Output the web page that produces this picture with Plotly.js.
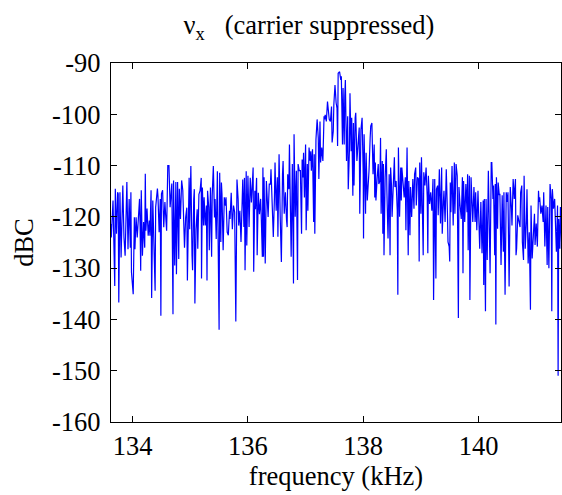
<!DOCTYPE html>
<html>
<head>
<meta charset="utf-8">
<script src="https://cdn.plot.ly/plotly-3.0.1.min.js"></script>
<style>html,body{margin:0;padding:0;background:#fff;}#chart{width:562px;height:495px;}</style>
</head>
<body>
<div id="chart"></div>
<script>
// Spectrum samples (frequency in kHz, level in dBC)
var freq1 = [133.62,133.63,133.66,133.69,133.70,133.72,133.74,133.75,133.76,133.78,133.80,133.83,133.85,133.87,133.90,133.92,133.94,133.96,133.97,133.98,134.01,134.03,134.04,134.06,134.08,134.10,134.12,134.13,134.14,134.15,134.17,134.19,134.21,134.22,134.23,134.25,134.27,134.29,134.30,134.32,134.33,134.35,134.37,134.39,134.40,134.43,134.44,134.46,134.48,134.49,134.50,134.52,134.54,134.56,134.58,134.59,134.61,134.63,134.65,134.66,134.68,134.70,134.71,134.73,134.75,134.76,134.78,134.80,134.81,134.83,134.85,134.87,134.88,134.90,134.92];
var dbc1 = [-121.4,-124,-116.8,-133.5,-114.5,-123.3,-115.2,-115.5,-136.7,-115.2,-127.9,-113.9,-124,-127.6,-113.2,-126.3,-116.5,-126,-115.2,-130.8,-135.1,-120.1,-126.3,-120.1,-124,-119.4,-116.5,-122,-130.5,-114.8,-127.6,-121,-126,-111.6,-122.7,-118.4,-123.7,-120.7,-123.7,-114.8,-135.8,-116.8,-126,-134.4,-118.1,-114.5,-116.1,-123,-116.5,-139.3,-115.5,-114.8,-122,-117.1,-121,-122.7,-110,-110,-118.1,-115.5,-113.5,-139,-112.9,-129.5,-113.2,-131.2,-113.2,-128.2,-114.5,-120.4,-112.9,-114.8,-118.1,-126,-120.1];

var freq2 = [134.94,134.95,134.96,134.98,134.99,135.01,135.03,135.04,135.06,135.07,135.08,135.10,135.12,135.13,135.15,135.17,135.19,135.195,135.21,135.23,135.24,135.26,135.28,135.29,135.30,135.32,135.33,135.35,135.37,135.38,135.40,135.42,135.43,135.45,135.47,135.48,135.50,135.51,135.53,135.54,135.55,135.57,135.59,135.61,135.62,135.64,135.66,135.68,135.69,135.71,135.73,135.75,135.77,135.79,135.81,135.83,135.84,135.86,135.88,135.90,135.91,135.93,135.94,135.95,135.97,135.98,136.00,136.02,136.04,136.06,136.08,136.09,136.10,136.12,136.13,136.15,136.16,136.18,136.20,136.22,136.23,136.25];
var dbc2 = [-118.2,-132.4,-123,-112.4,-122.4,-110.1,-127.5,-130.4,-116.5,-114.6,-136.9,-122.4,-118.5,-126.2,-115.6,-114.9,-112.4,-132,-114.3,-121.7,-116.2,-121.7,-117.8,-132.4,-114.9,-118.2,-126.5,-114.3,-127.8,-115.9,-110.1,-120.1,-116.5,-124.3,-111.1,-120.1,-142,-111.4,-124.9,-113.3,-115.6,-126.5,-116.2,-117.8,-116.2,-123,-123.6,-118.8,-120.4,-115.3,-122.4,-117.8,-119.1,-140.4,-112.7,-116.5,-121.7,-118.8,-124.9,-116.9,-112.7,-122,-112.4,-130.4,-111.1,-125.6,-112,-122,-112.4,-117.2,-110.7,-110.4,-130.7,-114.9,-118.5,-112.4,-127.5,-115.3,-119.5,-116.5,-119.5,-127.8];

var freq3 = [136.26,136.27,136.28,136.30,136.32,136.34,136.35,136.37,136.39,136.40,136.42,136.44,136.46,136.47,136.49,136.51,136.52,136.54,136.56,136.58,136.60,136.61,136.63,136.65,136.67,136.68,136.69,136.71,136.72,136.74,136.75,136.77,136.79,136.80,136.82,136.84,136.86,136.87,136.89,136.91,136.93,136.94,136.955,136.965,136.98,137.00,137.01,137.03,137.04,137.06,137.08,137.09,137.10,137.12,137.14,137.15,137.16,137.18,137.20,137.22,137.23,137.25,137.26,137.28,137.30,137.32,137.33,137.34,137.36,137.38,137.40,137.41,137.43,137.45,137.46,137.48,137.49,137.51,137.53,137.545,137.555,137.565];
var dbc3 = [-110.4,-127.8,-112.3,-129.1,-113,-117.5,-120,-113.6,-113.6,-110.7,-118.1,-123.9,-116.2,-109.4,-118.8,-112.3,-123.9,-107.8,-120,-128.8,-111.7,-109.1,-119.4,-115.2,-120.7,-122,-111.7,-114.6,-105.9,-117.5,-127.8,-109.7,-133,-103.9,-120,-111,-132.3,-109.7,-111,-111,-123.3,-108.8,-112.3,-107.5,-116.2,-105.9,-122.6,-109.7,-118.8,-106.5,-109.1,-107.2,-111,-106.8,-121,-107.8,-123.3,-104.9,-101,-104.6,-112.6,-101.4,-109.4,-106.5,-109.1,-100.4,-101,-100.1,-101.4,-97.5,-100.4,-101,-101.4,-98.5,-105.5,-103.3,-98.1,-94.3,-97.8,-98.8,-106.2,-92];

var freq4 = [137.59,137.61,137.62,137.64,137.65,137.67,137.68,137.69,137.71,137.73,137.74,137.76,137.77,137.79,137.80,137.82,137.83,137.84,137.86,137.87,137.89,137.91,137.93,137.94,137.96,137.98,138.00,138.005,138.015,138.04,138.05,138.07,138.08,138.10,138.12,138.13,138.15,138.17,138.19,138.20,138.21,138.22,138.24,138.26,138.27,138.29,138.30,138.31,138.33,138.34,138.35,138.36,138.38,138.40,138.41,138.43,138.45,138.465,138.475,138.49,138.50,138.52,138.54,138.55,138.57,138.59,138.60,138.61,138.63,138.65,138.66,138.67,138.69,138.71,138.73,138.74,138.76,138.78,138.79,138.81,138.82,138.84,138.86,138.88,138.89];
var dbc4 = [-91.7,-93.3,-92.6,-105.9,-94.9,-105.9,-96.5,-93.3,-109.1,-100.4,-114.6,-107.2,-95.9,-107.2,-100.7,-115.9,-101.7,-113.9,-100.7,-99.7,-109.1,-104.6,-102.6,-119.4,-103,-100.7,-111.7,-124.2,-103.9,-119.4,-107.5,-116.8,-114.9,-111,-104.6,-102.3,-101.7,-111.7,-105.9,-116.2,-109.4,-116.8,-112.6,-109.7,-113.6,-113,-104.6,-119.4,-109.1,-123.3,-109.7,-127.5,-112.3,-106.8,-114.9,-124.2,-111.7,-127.5,-110.4,-113.9,-120,-114.2,-108.4,-114.2,-113,-118.8,-135.2,-106.5,-120,-110.4,-116.8,-110.4,-114.2,-116.2,-112.3,-122.6,-106.5,-127.5,-113,-123.6,-114.2,-120,-112.6,-118.4,-111.7];

var freq5 = [138.91,138.92,138.94,138.96,138.97,138.98,139.00,139.01,139.03,139.04,139.05,139.07,139.09,139.11,139.12,139.13,139.15,139.17,139.19,139.21,139.22,139.24,139.26,139.27,139.29,139.30,139.32,139.34,139.36,139.37,139.39,139.40,139.42,139.44,139.46,139.47,139.49,139.50,139.51,139.52,139.54,139.56,139.58,139.59,139.61,139.63,139.65,139.66,139.68,139.70,139.72,139.73,139.74,139.76,139.78,139.80,139.81,139.82,139.84,139.85,139.87,139.88,139.90,139.92,139.94,139.95,139.97,139.99,140.01,140.02,140.04,140.06,140.08,140.09,140.10,140.12,140.13,140.15,140.17,140.19,140.20,140.22];
var dbc5 = [-110.4,-117.8,-112.3,-112.6,-128.7,-109.4,-119.4,-108.4,-119.4,-127.5,-111.3,-113.9,-110.4,-116.2,-127.1,-112,-117.5,-115.2,-118.8,-112.6,-136.2,-112.6,-132,-114.6,-113.9,-119.7,-110.7,-121.3,-110.4,-123.3,-117.1,-114.9,-121,-110.7,-119.1,-124.9,-125.8,-128.7,-113.3,-119.1,-110.1,-121.7,-109.4,-119.4,-109.7,-112,-139.7,-114.2,-117.8,-120.4,-112.3,-131,-113,-121,-113.6,-119.1,-111.7,-126.5,-112,-136.2,-112.3,-116.5,-121,-114.2,-121,-115.2,-122.6,-114.9,-123.6,-126.2,-117.1,-127.1,-116.8,-133.3,-116.5,-138.4,-116.5,-128.4,-111,-124.2,-131,-109.4];

var freq6 = [140.23,140.25,140.26,140.28,140.29,140.30,140.31,140.33,140.34,140.36,140.37,140.39,140.41,140.43,140.44,140.46,140.48,140.50,140.51,140.53,140.55,140.57,140.58,140.60,140.62,140.64,140.65,140.66,140.68,140.70,140.72,140.73,140.75,140.76,140.78,140.79,140.81,140.83,140.84,140.86,140.88,140.90,140.91,140.93,140.95,140.97,140.98,141.00,141.02,141.04,141.05,141.06,141.08,141.10,141.12,141.13,141.15,141.17,141.19,141.20,141.22,141.24,141.26,141.27,141.28,141.30,141.32,141.33,141.35,141.37,141.38,141.39,141.41,141.42,141.44];
var dbc6 = [-109.4,-116.5,-113.9,-127.5,-113.6,-141,-112.3,-122.3,-113.3,-115.8,-115.5,-129.4,-115.8,-126.8,-115.2,-135.2,-115.2,-117.1,-115.2,-133.6,-114.2,-118.4,-121.7,-112.6,-116.5,-112.6,-127.5,-126.2,-119.7,-120.7,-122,-115.2,-113.9,-124.9,-128.4,-112,-126.2,-120.7,-114.6,-129.1,-123,-138.1,-117.8,-128.1,-122,-119.4,-125.5,-121.3,-125.8,-114.9,-117.1,-116.2,-119.4,-117.8,-121,-115.2,-125.8,-117.8,-129.4,-118.1,-130,-113.6,-116.5,-138.4,-114.6,-118.4,-116.5,-121.3,-126.8,-117.8,-151,-120.4,-126.2,-118.1,-124.9];

var xTicks = [134, 136, 138, 140];
var xTickText = ["134", "136", "138", "140"];
var yTicks = [-160, -150, -140, -130, -120, -110, -100, -90];
var yTickText = ["-160", "-150", "-140", "-130", "-120", "-110", "-100", "-90"];

var titleText = "\u03bd<sub>x</sub>\u00a0\u00a0 (carrier suppressed)";
var xTitle = "frequency (kHz)";
var yTitle = "dBC";

var fs = [freq1, freq2, freq3, freq4, freq5, freq6];
var ds = [dbc1, dbc2, dbc3, dbc4, dbc5, dbc6];
var X = [], Y = [];
for (var s = 0; s < fs.length; s++) {
  var n = Math.min(fs[s].length, ds[s].length);
  for (var i = 0; i < n; i++) { X.push(fs[s][i]); Y.push(ds[s][i]); }
}

var font = {family: "Liberation Serif, Times New Roman, serif", size: 26.5, color: "#000"};

var trace = {
  x: X, y: Y, type: "scatter", mode: "lines",
  line: {color: "#0000ff", width: 1.2}, hoverinfo: "skip"
};

var axisCommon = {
  showline: true, linecolor: "#000", linewidth: 1.2, mirror: "ticks",
  ticks: "inside", ticklen: 6, tickwidth: 1, tickcolor: "#000",
  showgrid: false, zeroline: false, tickfont: font
};

var layout = {
  width: 562, height: 495,
  margin: {l: 111, r: 1, t: 63, b: 73},
  paper_bgcolor: "#fff", plot_bgcolor: "#fff",
  showlegend: false,
  font: font,
  title: {text: titleText, font: font, xref: "paper", x: 0.44, xanchor: "center",
          yref: "container", y: 1 - 25/495, yanchor: "middle"},
  xaxis: Object.assign({}, axisCommon, {
    range: [133.625, 141.43], tickmode: "array", tickvals: xTicks, ticktext: xTickText,
    title: {text: xTitle, font: font, standoff: 4}
  }),
  yaxis: Object.assign({}, axisCommon, {
    range: [-160, -90], tickmode: "array", tickvals: yTicks, ticktext: yTickText,
    ticklabelstandoff: 4,
    title: {text: yTitle, font: font, standoff: 10}
  })
};

Plotly.newPlot("chart", [trace], layout, {staticPlot: true, displayModeBar: false});
</script>
</body>
</html>
